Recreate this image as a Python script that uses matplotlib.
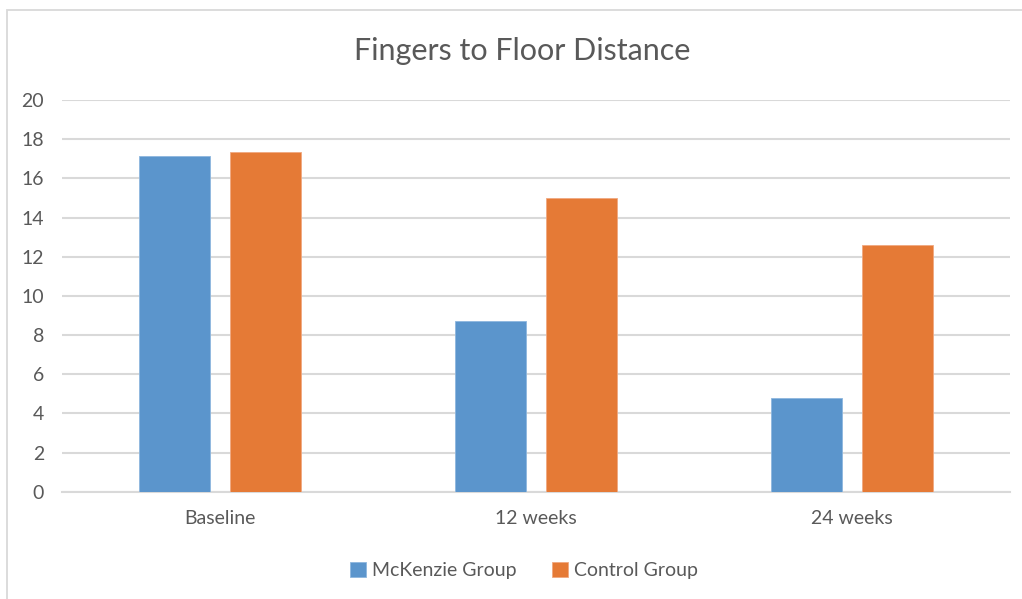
import numpy as np
import matplotlib.pyplot as plt
from matplotlib.patches import Rectangle

plt.rcParams['font.family'] = ['Lato', 'DejaVu Sans']

categories = ['Baseline', '12 weeks', '24 weeks']
mckenzie = [17.15, 8.7, 4.8]
control = [17.35, 15.0, 12.6]
series_names = ['McKenzie Group', 'Control Group']
yticks = [0, 2, 4, 6, 8, 10, 12, 14, 16, 18, 20]

blue = '#5B95CC'
orange = '#E57A36'
grid_grey = '#D9D9D9'
text_grey = '#595959'

fig = plt.figure(figsize=(10.22, 5.99), dpi=100)
ax = fig.add_axes([0.0607, 0.179, 0.9273, 0.654])

# outer chart frame
fig.patches.append(Rectangle((7 / 1022, -0.1), 1.1, 0.1 + (599 - 10) / 599,
                             transform=fig.transFigure, fill=False,
                             edgecolor=grid_grey, linewidth=1.3))

x = np.arange(len(categories))
w = 0.225
off = 0.144
ax.bar(x - off, mckenzie, w, color=blue, edgecolor='#8DB6DE', linewidth=0.6,
       label=series_names[0], zorder=3)
ax.bar(x + off, control, w, color=orange, edgecolor='#F0A880', linewidth=0.6,
       label=series_names[1], zorder=3)

ax.set_xlim(-0.5, 2.5)
ax.set_ylim(0, 20)
ax.set_yticks(yticks)
ax.set_xticks(x)
ax.set_xticklabels(categories)
ax.yaxis.grid(True, color=grid_grey, linewidth=1.5, zorder=0)
ax.set_axisbelow(True)
for s in ['top', 'right', 'left']:
    ax.spines[s].set_visible(False)
ax.spines['bottom'].set_color(grid_grey)
ax.spines['bottom'].set_linewidth(1.5)
ax.tick_params(axis='both', length=0, labelsize=14, colors=text_grey)
ax.tick_params(axis='x', pad=13)
ax.tick_params(axis='y', pad=13)

fig.text(0.511, 0.915, 'Fingers to Floor Distance', ha='center', va='center',
         fontsize=22, color=text_grey)

ax.legend(loc='center', bbox_to_anchor=(0.513, 0.048), bbox_transform=fig.transFigure,
          ncol=2, frameon=False, fontsize=14, labelcolor=text_grey,
          handlelength=0.8, handleheight=0.8, handletextpad=0.35, columnspacing=1.8)

fig.savefig('out.png', dpi=100)
